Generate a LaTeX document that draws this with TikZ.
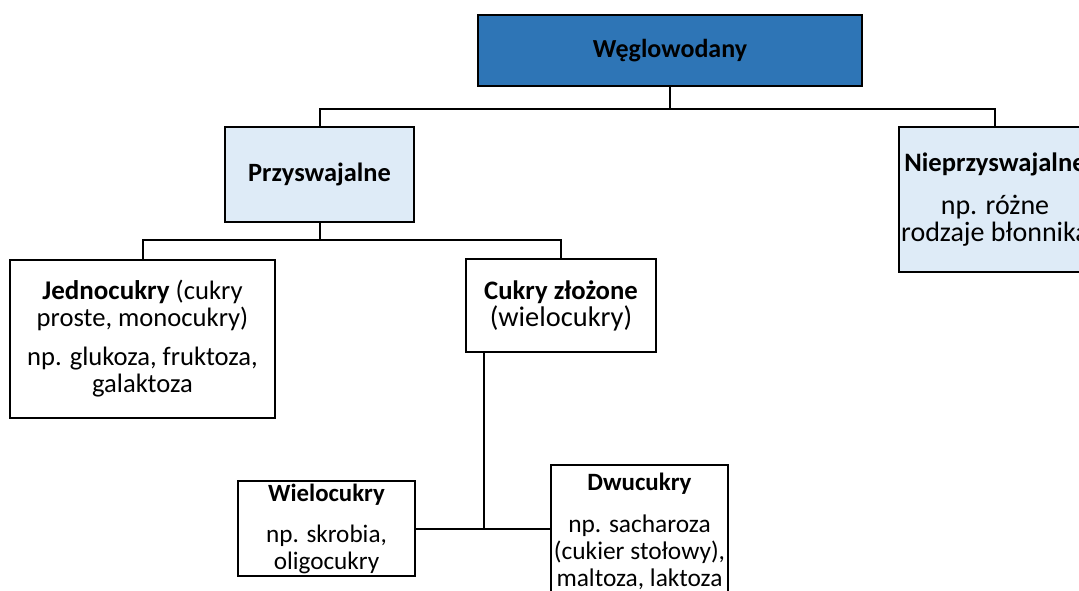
\documentclass[tikz,border=0pt]{standalone}
\usepackage{fontspec}
\setmainfont{Carlito}
\usepackage{tikz}
\definecolor{darkblue}{HTML}{2E75B6}
\definecolor{paleblue}{HTML}{DEEBF7}
\newcommand{\fsz}[1]{\fontsize{#1}{13.5}\selectfont\lineskiplimit=-10pt\relax}
\newcommand{\hd}[2]{{\fontsize{#1}{13.5}\selectfont\bfseries #2}}

\begin{document}
\begin{tikzpicture}[x=0.5pt,y=-0.5pt,
        cbox/.style={draw=black, line width=1.3pt, fill=white, align=center, inner sep=0pt,
            font=\fsz{#1}},
        link/.style={line width=1pt}]
        \useasboundingbox (0,0) rectangle (1079,590);
        \clip (0,0) rectangle (1079,590);

        \node[cbox=13, fill=darkblue, minimum width=192pt, minimum height=35.5pt] (wegl) at (670,50.5) {\hd{13}{Węglowodany}};

        \node[cbox=13, fill=paleblue, minimum width=94.5pt, minimum height=47.5pt] (przysw) at (319.5,174.5) {\hd{13.2}{Przyswajalne}};
        \node[cbox=14, fill=paleblue, minimum width=96pt, minimum height=72.5pt] (nieprz) at (995,199.5) {\hd{13.3}{Nieprzyswajalne}\\[8pt]np. różne\\rodzaje błonnika};

        \node[cbox=13.3, minimum width=132.5pt, minimum height=79pt] (jedno) at (142.5,339) {\hd{13.5}{Jednocukry} (cukry\\proste, monocukry)\\[6pt]np. glukoza, fruktoza,\\galaktoza};
        \node[cbox=14.2, minimum width=95pt, minimum height=46.5pt] (zlozone) at (561,305.5) {\hd{13.35}{Cukry złożone}\\(wielocukry)};

        \node[cbox=12.6, minimum width=88.5pt, minimum height=47.5pt] (wielo) at (326.5,528.5) {\hd{12.4}{Wielocukry}\\[7pt]np. skrobia,\\oligocukry};
        \node[cbox=12.7, minimum width=88.5pt, minimum height=66pt] (dwu) at (639.5,531) {\hd{12.45}{Dwucukry}\\[7.5pt]np. sacharoza\\(cukier stołowy),\\maltoza, laktoza};

        \draw[link] (wegl.south) -- ++(0,22) -| (przysw.north);
        \draw[link] (wegl.south) -- ++(0,22) -| (nieprz.north);
        \draw[link] (przysw.south) -- ++(0,17) -| (jedno.north);
        \draw[link] (przysw.south) -- ++(0,17) -| (zlozone.north);

        \coordinate (split) at (484,529);
        \draw[link] (zlozone.south -| split) -- (split);
        \draw[link] (wielo.east) -- (wielo.east -| dwu.west);
    \end{tikzpicture}
\end{document}
